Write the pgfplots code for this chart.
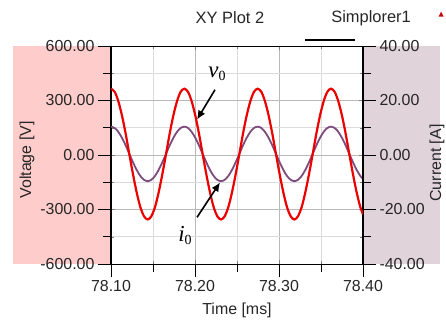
\documentclass[border=0pt]{standalone}
\usepackage{fontspec}
\setmainfont{Liberation Sans}
\newfontfamily\tnr{Liberation Serif}
\usepackage{pgfplots}
\pgfplotsset{compat=1.18}
\usepackage{pgfplotstable}
\usetikzlibrary{arrows.meta}
\definecolor{pinkbg}{RGB}{255,204,204}
\definecolor{mauvebg}{RGB}{225,211,218}
\definecolor{vred}{RGB}{235,0,0}
\definecolor{ipurple}{RGB}{125,75,125}

\pgfplotstableread{
t V I
78.1000 365 10.4
78.1044 347.4 9.91
78.1087 296.2 8.49
78.1131 216.6 6.28
78.1175 116.2 3.49
78.1218 5 0.4
78.1262 -106.2 -2.69
78.1306 -206.6 -5.48
78.1349 -286.2 -7.69
78.1393 -337.4 -9.11
78.1437 -355 -9.6
78.1480 -337.4 -9.11
78.1524 -286.2 -7.69
78.1567 -206.6 -5.48
78.1611 -106.2 -2.69
78.1655 5 0.4
78.1698 116.2 3.49
78.1742 216.6 6.28
78.1786 296.2 8.49
78.1829 347.4 9.91
78.1873 365 10.4
78.1917 347.4 9.91
78.1960 296.2 8.49
78.2004 216.6 6.28
78.2048 116.2 3.49
78.2091 5 0.4
78.2135 -106.2 -2.69
78.2179 -206.6 -5.48
78.2222 -286.2 -7.69
78.2266 -337.4 -9.11
78.2310 -355 -9.6
78.2353 -337.4 -9.11
78.2397 -286.2 -7.69
78.2440 -206.6 -5.48
78.2484 -106.2 -2.69
78.2528 5 0.4
78.2571 116.2 3.49
78.2615 216.6 6.28
78.2659 296.2 8.49
78.2702 347.4 9.91
78.2746 365 10.4
78.2790 347.4 9.91
78.2833 296.2 8.49
78.2877 216.6 6.28
78.2921 116.2 3.49
78.2964 5 0.4
78.3008 -106.2 -2.69
78.3052 -206.6 -5.48
78.3095 -286.2 -7.69
78.3139 -337.4 -9.11
78.3183 -355 -9.6
78.3226 -337.4 -9.11
78.3270 -286.2 -7.69
78.3313 -206.6 -5.48
78.3357 -106.2 -2.69
78.3401 5 0.4
78.3444 116.2 3.49
78.3488 216.6 6.28
78.3532 296.2 8.49
78.3575 347.4 9.91
78.3619 365 10.4
78.3663 347.4 9.91
78.3706 296.2 8.49
78.3750 216.6 6.28
78.3794 116.2 3.49
78.3837 5 0.4
78.3881 -106.2 -2.69
78.3925 -206.6 -5.48
78.3968 -286.2 -7.69
78.4000 -326.6 -8.81
}\data

\pgfplotsset{common/.style={
  at={(0,0)}, anchor=south west, scale only axis,
  width=252bp, height=218bp,
  xmin=78.1, xmax=78.4, xtick={78.1,78.2,78.3,78.4}, minor x tick num=1,
  tick align=outside, major tick length=13bp, minor tick length=8bp,
  axis line style={black, line width=1bp},
  ticklabel style={font=\fontsize{16}{18}\selectfont, text=black!85},
  label style={font=\fontsize{16}{18}\selectfont, text=black!85},
  /pgf/number format/fixed,
  /pgf/number format/fixed zerofill,
  /pgf/number format/precision=2,
  /pgf/number format/assume math mode=true,
  /pgf/number format/1000 sep={}}}

\begin{document}
\begin{tikzpicture}
\path[use as bounding box] (-111bp,-58bp) rectangle (335bp,264bp);
\fill[pinkbg] (-98bp,0) rectangle (0,218bp);
\fill[mauvebg] (252bp,0) rectangle (329bp,218bp);

% grid only
\begin{axis}[at={(0,0)}, anchor=south west, scale only axis,
  width=252bp, height=218bp,
  xmin=78.1, xmax=78.4, xtick={78.1,78.2,78.3,78.4}, minor x tick num=1,
  ymin=-600, ymax=600, ytick={-600,-300,0,300,600}, minor y tick num=1,
  xticklabels={}, yticklabels={},
  grid=both,
  major grid style={draw=gray!55, line width=0.9bp},
  minor grid style={draw=gray!28, line width=0.9bp},
  axis line style={draw=none},
]
\addplot[draw=none] coordinates {(78.1,0) (78.4,0)};
\end{axis}

\begin{axis}[common,
  ymin=-40, ymax=40, ytick={-40,-20,0,20,40}, minor y tick num=1,
  ytick pos=right, xtick pos=bottom, xticklabels={},
  major tick style={black, line width=0.9bp},
  minor tick style={black, line width=0.9bp},
  ylabel={Current [A]},
  ylabel style={at={(axis description cs:1.294,0.463)}, anchor=center},
]
\addplot[ipurple, line width=1.8bp, smooth] table[x=t, y=I] {\data};
\end{axis}

\begin{axis}[common,
  ymin=-600, ymax=600, ytick={-600,-300,0,300,600}, minor y tick num=1,
  ytick pos=left, xtick pos=bottom,
  major tick style={black, line width=0.9bp},
  minor tick style={black, line width=0.9bp},
  xlabel={Time [ms]},
  xlabel style={at={(axis description cs:0.5,-0.211)}, anchor=center},
  ylabel={Voltage [V]},
  ylabel style={at={(axis description cs:-0.333,0.477)}, anchor=center},
  clip mode=individual,
]
\addplot[vred, line width=2.2bp, smooth] table[x=t, y=V] {\data};
\draw[black, line width=1.6bp, -{Latex[length=9bp,width=8bp]}] (axis cs:78.2238,359) -- (axis cs:78.2024,195);
\draw[black, line width=1.6bp, -{Latex[length=9bp,width=8bp]}] (axis cs:78.2024,-343) -- (axis cs:78.2298,-151);
\node[font=\tnr\fontsize{23}{24}\selectfont] at (axis cs:78.2262,447) {\itshape v\raisebox{-0.25ex}{\upshape\fontsize{14}{15}\selectfont 0}};
\node[font=\tnr\fontsize{23}{24}\selectfont] at (axis cs:78.1881,-442) {\itshape i\raisebox{-0.25ex}{\upshape\fontsize{14}{15}\selectfont 0}};
\node[font=\fontsize{16.5}{18}\selectfont, text=black!85] at (axis description cs:0.472,1.128) {XY Plot 2};
\node[font=\fontsize{16.5}{18}\selectfont, text=black!85] at (axis description cs:1.032,1.128) {Simplorer1};
\draw[black, line width=2.2bp] (axis description cs:0.770,1.028) -- (axis description cs:0.968,1.028);
\fill[red!80!black] ([xshift=-2.5bp]axis description cs:1.31,1.135) -- ([xshift=2.5bp]axis description cs:1.31,1.135) -- ([yshift=5bp]axis description cs:1.31,1.135) -- cycle;
\end{axis}
\end{tikzpicture}
\end{document}
